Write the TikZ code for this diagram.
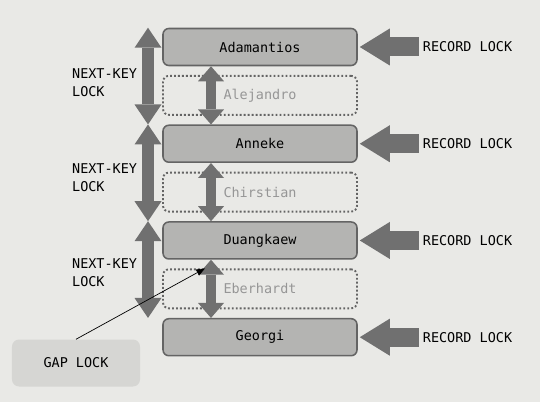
\documentclass[tikz,border=0pt]{standalone}
\usepackage{fontspec}
\setmainfont{DejaVu Sans Mono}
\usetikzlibrary{arrows.meta,positioning,calc}
\definecolor{paper}{RGB}{233,233,230}
\definecolor{boxfill}{RGB}{180,180,178}
\definecolor{boxline}{RGB}{100,100,100}
\definecolor{arrowgray}{RGB}{112,112,112}
\definecolor{gaptext}{RGB}{150,150,150}
\definecolor{gapfill}{RGB}{214,214,211}
\tikzset{
  every node/.style={font=\fontsize{11.5}{15.5}\selectfont},
  recbox/.style={draw=boxline,line width=1.3pt,fill=boxfill,rounded corners=5pt,
    minimum width=5.82cm,minimum height=1.11cm},
  gapbox/.style={draw=boxline,line width=1.6pt,dash pattern=on 1.6pt off 1.8pt,
    rounded corners=5pt,minimum width=5.82cm,minimum height=1.17cm,text=gaptext},
  nextkey/.style={arrowgray,line width=0.36cm,
    {Triangle[width=0.81cm,length=0.6cm,line width=0pt]}-{Triangle[width=0.81cm,length=0.6cm,line width=0pt]}},
  gaparrow/.style={arrowgray,line width=0.3cm,
    {Triangle[width=0.78cm,length=0.45cm,line width=0pt]}-{Triangle[width=0.78cm,length=0.45cm,line width=0pt]}},
  recarrow/.style={arrowgray,line width=0.57cm,-{Triangle[width=1.11cm,length=0.9cm,line width=0pt]}},
  reclabel/.style={right=1.83cm of #1},
}
\begin{document}
\begin{tikzpicture}[x=0.03cm,y=-0.03cm]
\fill[paper] (0,0) rectangle (540,402);
\useasboundingbox (0,0) rectangle (540,402);

% index records and gaps
\node[recbox] (Adamantios) at (260,47) {Adamantios};
\node[gapbox,below=0.26cm of Adamantios] (Alejandro) {Alejandro};
\node[recbox,below=0.26cm of Alejandro] (Anneke) {Anneke};
\node[gapbox,below=0.26cm of Anneke] (Chirstian) {Chirstian};
\node[recbox,below=0.26cm of Chirstian] (Duangkaew) {Duangkaew};
\node[gapbox,below=0.26cm of Duangkaew] (Eberhardt) {Eberhardt};
\node[recbox,below=0.26cm of Eberhardt] (Georgi) {Georgi};

% record locks
\foreach \r/\n in {Adamantios/1,Anneke/2,Duangkaew/3,Georgi/4}{
  \node[reclabel=\r] (rl\n) {RECORD LOCK};
  \draw[recarrow] (rl\n.west) -- ([xshift=0.06cm]\r.east);
}

% next-key locks
\coordinate (nk) at (148,0);
\coordinate (gk) at (211,0);
\draw[nextkey] (Adamantios.north -| nk) -- (Anneke.north -| nk);
\draw[nextkey] (Anneke.north -| nk) -- (Duangkaew.north -| nk);
\draw[nextkey] (Duangkaew.north -| nk) -- (Georgi.north -| nk);
\node[align=left,anchor=west] (nkl1) at (68,83) {NEXT-KEY\\LOCK};
\node[align=left,anchor=west] (nkl2) at (68,178) {NEXT-KEY\\LOCK};
\node[align=left,anchor=west] (nkl3) at (68,273) {NEXT-KEY\\LOCK};

% gap locks
\draw[gaparrow] (Adamantios.south -| gk) -- (Anneke.north -| gk);
\draw[gaparrow] (Anneke.south -| gk) -- (Duangkaew.north -| gk);
\draw[gaparrow] (Duangkaew.south -| gk) -- (Georgi.north -| gk);

\node[fill=gapfill,rounded corners=6pt,minimum width=3.84cm,minimum height=1.41cm] (gaplock) at (76,363) {GAP LOCK};
\coordinate (gaptip) at ($(Eberhardt.north -| gk)+(-6,0)$);
\draw[line width=0.6pt,-{Triangle[width=0.2cm,length=0.26cm]}] (gaplock.north) -- (gaptip);
\end{tikzpicture}
\end{document}
